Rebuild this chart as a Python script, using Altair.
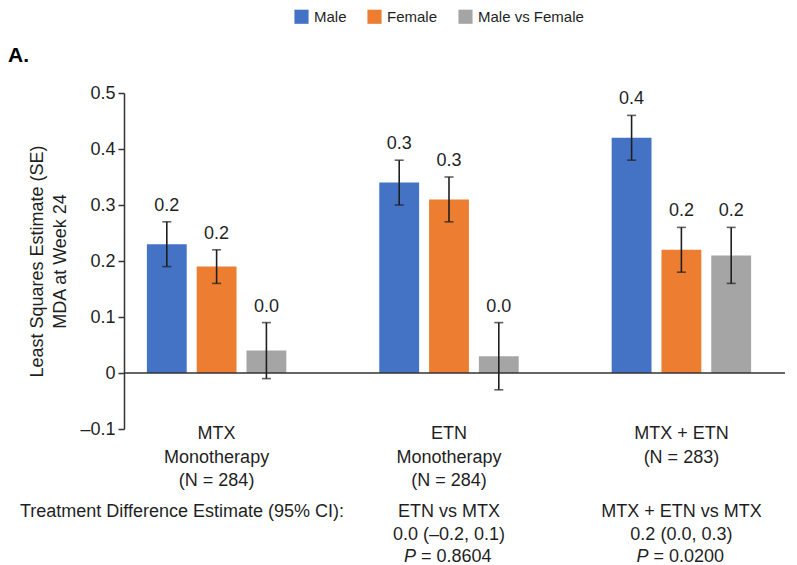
import altair as alt
import pandas as pd

# Treatment arms and subgroups
groups = ["MTX Monotherapy", "ETN Monotherapy", "MTX + ETN"]
group_labels = ["MTX\nMonotherapy\n(N = 284)", "ETN\nMonotherapy\n(N = 284)", "MTX + ETN\n(N = 283)"]
series = ["Male", "Female", "Male vs Female"]
colors = ["#4472C4", "#ED7D31", "#A5A5A5"]

# Least squares estimates with their SE limits
male = [0.23, 0.34, 0.42]
male_lo = [0.19, 0.30, 0.38]
male_hi = [0.27, 0.38, 0.46]
female = [0.19, 0.31, 0.22]
female_lo = [0.16, 0.27, 0.18]
female_hi = [0.22, 0.35, 0.26]
diff = [0.04, 0.03, 0.21]
diff_lo = [-0.01, -0.03, 0.16]
diff_hi = [0.09, 0.09, 0.26]

# Treatment difference estimates shown under the arms
comparison_groups = ["ETN Monotherapy", "MTX + ETN"]
comparison_text = ["ETN vs MTX\n0.0 (\u20130.2, 0.1)", "MTX + ETN vs MTX\n0.2 (0.0, 0.3)"]
comparison_p = ["= 0.8604", "= 0.0200"]

FONT = "Liberation Sans"
INK = "#1f1f1f"

rows = []
for vals, los, his, name in [(male, male_lo, male_hi, "Male"),
                             (female, female_lo, female_hi, "Female"),
                             (diff, diff_lo, diff_hi, "Male vs Female")]:
    for g, v, lo, hi in zip(groups, vals, los, his):
        rows.append({"group": g, "series": name, "value": v, "lo": lo, "hi": hi})
df = pd.DataFrame(rows)

x_enc = alt.X("group:N", axis=None,
              scale=alt.Scale(domain=groups, range=[-5, 655],
                              paddingInner=0.4, paddingOuter=0.12))
xo_enc = alt.XOffset("series:N",
                     scale=alt.Scale(domain=series, paddingInner=0.2, paddingOuter=0))
y_enc = alt.Y("value:Q",
              scale=alt.Scale(domain=[-0.1, 0.5], nice=False),
              axis=alt.Axis(
                  title=["Least Squares Estimate (SE)", "MDA at Week 24"],
                  values=[-0.1, 0, 0.1, 0.2, 0.3, 0.4, 0.5],
                  labelExpr="datum.value == 0 ? '0' : (datum.value < 0 ? '\u2013' + format(-datum.value, '.1f') : format(datum.value, '.1f'))",
                  grid=False, tickSize=6, tickColor="#333", tickWidth=1.5,
                  domainColor="#333", domainWidth=1.5,
                  labelFontSize=18, labelColor=INK, labelPadding=3,
                  titleFontSize=18, titleFontWeight="normal", titleColor=INK,
                  titleLineHeight=23, titlePadding=10,
              ))

base = alt.Chart(df)

bars = base.mark_bar().encode(
    x=x_enc, xOffset=xo_enc, y=y_enc,
    color=alt.Color("series:N",
                    scale=alt.Scale(domain=series, range=colors),
                    legend=alt.Legend(title=None, orient="none", direction="horizontal",
                                      legendX=170, legendY=-84,
                                      symbolType="square", symbolSize=200,
                                      symbolStrokeWidth=0, symbolOpacity=1,
                                      labelFontSize=15, labelColor=INK, labelFont=FONT,
                                      labelOffset=5, columnPadding=20)),
)

whiskers = base.mark_rule(color=INK, strokeWidth=1.6).encode(
    x=x_enc, xOffset=xo_enc, y="lo:Q", y2="hi:Q")
caps_hi = base.mark_tick(color=INK, thickness=1.6, size=9).encode(
    x=x_enc, xOffset=xo_enc, y="hi:Q")
caps_lo = base.mark_tick(color=INK, thickness=1.6, size=9).encode(
    x=x_enc, xOffset=xo_enc, y="lo:Q")

value_labels = base.mark_text(fontSize=18, color=INK, baseline="alphabetic", dy=-11).encode(
    x=x_enc, xOffset=xo_enc, y="hi:Q",
    text=alt.Text("value:Q", format=".1f"))

zero_line = alt.Chart(pd.DataFrame({"y": [0]})).mark_rule(color="#333", strokeWidth=1.5).encode(
    y="y:Q")

arm_labels = alt.Chart(pd.DataFrame({"group": groups, "label": group_labels})).mark_text(
    fontSize=18, color=INK, lineBreak="\n", lineHeight=23.5, baseline="alphabetic", dy=10
).encode(x=x_enc, y=alt.datum(-0.1), text="label:N")

header = alt.Chart(pd.DataFrame({"t": ["Treatment Difference Estimate (95% CI):"]})).mark_text(
    fontSize=18, color=INK, align="left", baseline="alphabetic"
).encode(x=alt.value(-104), y=alt.value(424), text="t:N")

comparisons = pd.DataFrame({"group": comparison_groups, "label": comparison_text, "p": comparison_p})
comp_text = alt.Chart(comparisons).mark_text(
    fontSize=18, color=INK, lineBreak="\n", lineHeight=22.5, baseline="alphabetic"
).encode(x=x_enc, y=alt.value(424), text="label:N")
comp_p_italic = alt.Chart(comparisons).mark_text(
    fontSize=18, color=INK, fontStyle="italic", align="left", baseline="alphabetic", dx=-45
).encode(x=x_enc, y=alt.value(469), text=alt.value("P"))
comp_p_value = alt.Chart(comparisons).mark_text(
    fontSize=18, color=INK, align="left", baseline="alphabetic", dx=-28
).encode(x=x_enc, y=alt.value(469), text="p:N")

panel_tag = alt.Chart(pd.DataFrame({"t": ["A."]})).mark_text(
    fontSize=21, fontWeight="bold", color="#000", align="left", baseline="alphabetic"
).encode(x=alt.value(-116), y=alt.value(-31), text="t:N")

chart = alt.layer(
    bars, zero_line, whiskers, caps_hi, caps_lo, value_labels,
    arm_labels, header, comp_text, comp_p_italic, comp_p_value, panel_tag
).properties(
    width=661, height=336,
    autosize=alt.AutoSizeParams(type="none"),
    padding={"left": 124, "top": 93, "right": 12, "bottom": 136},
    background="white",
).configure(font=FONT).configure_view(stroke=None)

chart.save("out.html", embed_options={"renderer": "svg", "actions": False})
